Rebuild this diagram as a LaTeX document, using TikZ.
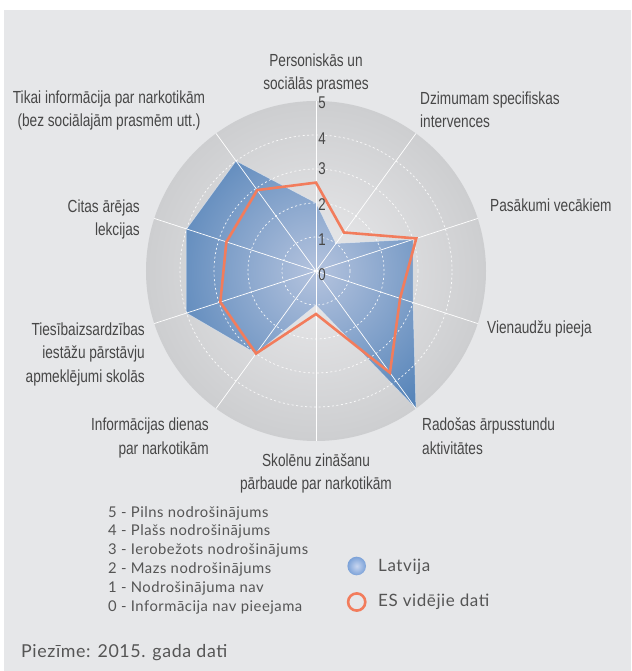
\documentclass[tikz,border=0pt]{standalone}
\usepackage{fontspec}
\setmainfont{Lato}[LetterSpace=3.5]
\newfontfamily\axfont{Liberation Sans}[FakeStretch=0.78]
\definecolor{panel}{HTML}{E6E7E9}
\definecolor{discin}{HTML}{EAEAEC}
\definecolor{discout}{HTML}{CDCED0}
\definecolor{bluein}{HTML}{B4C3DE}
\definecolor{blueout}{HTML}{5181B7}
\definecolor{eu}{HTML}{F27C5C}
\definecolor{txt}{HTML}{474747}
\definecolor{legtxt}{HTML}{555555}
\definecolor{legbluein}{HTML}{C8D6F0}
\definecolor{legblueout}{HTML}{7CA2D8}
\tikzset{
  axlabel/.style={font=\axfont\fontsize{17.5}{23.5}\selectfont, text=txt, inner sep=0pt},
  scalelabel/.style={font=\axfont\fontsize{17}{17}\selectfont, text=txt, inner sep=0pt},
  legendtext/.style={font=\fontsize{14.8}{18.8}\selectfont, text=legtxt, inner sep=0pt, align=left},
  bigtext/.style={font=\fontsize{17}{20}\selectfont, text=legtxt, inner sep=0pt},
  ring/.style={white, line width=0.7pt, dash pattern=on 2pt off 2.5pt, opacity=0.9},
  spoke/.style={white, line width=0.7pt},
  euline/.style={eu, line width=2.6pt, line join=miter},
}
\begin{document}
\begin{tikzpicture}[x=1pt,y=1pt]
\useasboundingbox (-316,271) rectangle (315,-400);
\fill[white] (-316,271) rectangle (315,-400);
\fill[panel] (-312,261) rectangle (315,-400);
% disc
\shade[inner color=discin, outer color=discout] (0,0) circle (170);
% Latvia polygon
\begin{scope}
\clip (90:68) -- (54:34) -- (18:102) -- (-18:102) -- (-54:170) -- (-90:34) -- (-126:102) -- (-162:136) -- (162:136) -- (126:136) -- cycle;
\shade[inner color=bluein, outer color=blueout] (0,0) circle (170);
\end{scope}
\draw[white, line width=0.5pt, opacity=0.5] (90:68) -- (54:34) -- (18:102) -- (-18:102) -- (-54:170) -- (-90:34) -- (-126:102) -- (-162:136) -- (162:136) -- (126:136) -- cycle;
% rings
\foreach \r in {34,68,102,136} \draw[ring] (0,0) circle (\r);
% spokes
\foreach \a in {90,54,18,-18,-54,-90,-126,-162,162,126} \draw[spoke] (0,0) -- (\a:170);
% EU line
\draw[euline] (90:88.4) -- (54:47.6) -- (18:105.4) -- (-18:88.4) -- (-54:125.8) -- (-90:43) -- (-126:102) -- (-162:100.6) -- (162:94.2) -- (126:100) -- cycle;
% scale labels
\node[scalelabel] (s5) at (6,168) {5};
\node[scalelabel] (s4) at (6,132) {4};
\node[scalelabel] (s3) at (6,102) {3};
\node[scalelabel] (s2) at (6,66) {2};
\node[scalelabel] (s1) at (6,31) {1};
\node[scalelabel] (s0) at (6,-4) {0};
% axis labels
\node[axlabel, align=center] (l0) at (0,197.5) {Personiskās un\\sociālās prasmes};
\node[axlabel, align=left, anchor=west] (l1) at (104,161.5) {Dzimumam specifiskas\\intervences};
\node[axlabel, anchor=west] (l2) at (174,66) {Pasākumi vecākiem};
\node[axlabel, anchor=west] (l3) at (171,-58) {Vienaudžu pieeja};
\node[axlabel, align=left, anchor=west] (l4) at (106,-165) {Radošas ārpusstundu\\aktivitātes};
\node[axlabel, align=center] (l5) at (0,-202.5) {Skolēnu zināšanu\\pārbaude par narkotikām};
\node[axlabel, align=right, anchor=east] (l6) at (-107,-167) {Informācijas dienas\\par narkotikām};
\node[axlabel, align=right, anchor=east] (l7) at (-171,-83) {Tiesībaizsardzības\\iestāžu pārstāvju\\apmeklējumi skolās};
\node[axlabel, align=right, anchor=east] (l8) at (-176,51.5) {Citas ārējas\\lekcijas};
\node[axlabel, align=center] (l9) at (-207,160.5) {Tikai informācija par narkotikām\\(bez sociālajām prasmēm utt.)};
% legend
\node[legendtext, anchor=west] (scale) at (-208,-289) {5 - Pilns nodrošinājums\\4 - Plašs nodrošinājums\\3 - Ierobežots nodrošinājums\\2 - Mazs nodrošinājums\\1 - Nodrošinājuma nav\\0 - Informācija nav pieejama};
\shade[inner color=legbluein, outer color=legblueout] (40.7,-295) circle (9.3);
\node[bigtext, anchor=west] (latv) at (62,-296) {Latvija};
\draw[eu, line width=2.6pt] (40.7,-331) circle (8.6);
\node[bigtext, anchor=west] (es) at (62,-331) {ES vidējie dati};
\node[bigtext, font=\fontsize{17.8}{20}\selectfont, anchor=west] (note) at (-295,-382) {Piezīme: 2015. gada dati};
\end{tikzpicture}
\end{document}
